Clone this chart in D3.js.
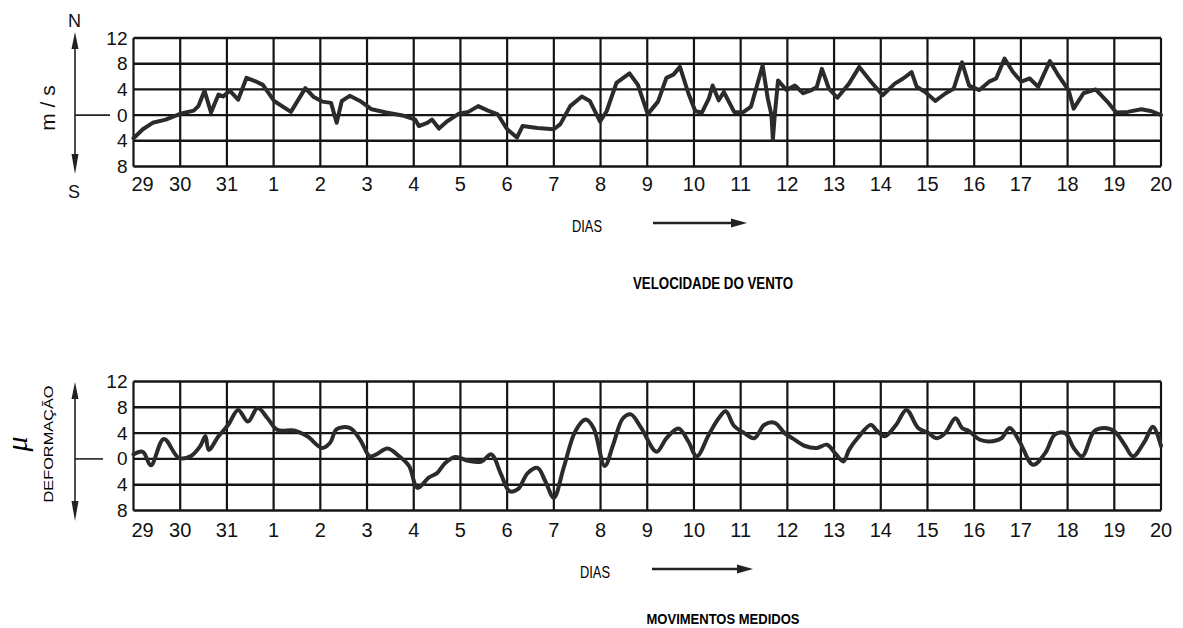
<!DOCTYPE html>
<html>
<head>
<meta charset="utf-8">
<script src="https://cdn.jsdelivr.net/npm/d3@7"></script>
<style>
  body { margin: 0; background: #fff; }
  svg { display: block; }
  .tick-label { font-family: "Liberation Sans", Arial, sans-serif; fill: #111; }
  .title { font-family: "Liberation Sans", Arial, sans-serif; fill: #000; }
</style>
</head>
<body>
<svg id="chart" width="1183" height="628"></svg>
<script>
// Day labels along the x axis (29 Oct .. 20 Nov)
const days = ["29", "30", "31", "1", "2", "3", "4", "5", "6", "7", "8", "9",
  "10", "11", "12", "13", "14", "15", "16", "17", "18", "19", "20"];
const yTicks = [12, 8, 4, 0, -4, -8];

// Wind speed (m/s, north positive) - position in days from the "29" line
const windT = [0, 0.2, 0.41, 0.69, 1.0, 1.29, 1.39, 1.52, 1.66, 1.82, 1.92, 2.06, 2.24, 2.42, 2.6, 2.77,
  3.01, 3.37, 3.68, 3.86, 4.04, 4.23, 4.35, 4.46, 4.63, 4.85, 5.1, 5.41, 5.76, 6.03, 6.11, 6.29,
  6.39, 6.54, 6.71, 6.96, 7.17, 7.38, 7.59, 7.8, 8.0, 8.21, 8.33, 8.65, 9.0, 9.14, 9.35, 9.6,
  9.77, 9.99, 10.13, 10.34, 10.62, 10.8, 11.01, 11.23, 11.41, 11.56, 11.7, 11.88, 12.03, 12.17,
  12.32, 12.4, 12.53, 12.64, 12.86, 13.04, 13.22, 13.33, 13.47, 13.58, 13.66, 13.69, 13.73, 13.8,
  13.98, 14.16, 14.34, 14.52, 14.63, 14.74, 14.89, 15.07, 15.32, 15.54, 15.79, 16.04, 16.3, 16.48,
  16.66, 16.77, 16.95, 17.17, 17.39, 17.56, 17.74, 17.89, 18.11, 18.32, 18.47, 18.65, 18.83, 19.01,
  19.19, 19.37, 19.62, 19.8, 20.02, 20.13, 20.34, 20.6, 20.85, 21.04, 21.29, 21.58, 21.8, 22];
const windV = [-3.6, -2.2, -1.2, -0.7, 0.2, 0.7, 1.4, 3.8, 0.4, 3.2, 2.9, 3.8, 2.4, 5.8, 5.3, 4.7,
  2.2, 0.5, 4.2, 2.8, 2.1, 1.9, -1.2, 2.2, 3.0, 2.2, 0.9, 0.4, -0.05, -0.7, -1.7, -1.2,
  -0.7, -2.1, -1.0, 0.2, 0.5, 1.4, 0.7, 0.1, -2.2, -3.5, -1.7, -2.0, -2.2, -1.4, 1.4, 2.9,
  2.2, -1.0, 0.6, 5.0, 6.5, 4.7, 0.15, 2.1, 5.8, 6.3, 7.5, 3.4, 0.6, 0.4,
  2.6, 4.6, 2.3, 3.6, 0.5, 0.4, 1.3, 4.1, 7.7, 2.6, 0, -3.8, 0, 5.4,
  3.9, 4.6, 3.4, 3.9, 4.4, 7.2, 4.1, 2.7, 4.9, 7.5, 5.2, 3.1, 4.9, 5.7,
  6.7, 4.4, 3.6, 2.2, 3.4, 4.1, 8.2, 4.6, 3.9, 5.2, 5.7, 8.8, 6.7, 5.2,
  5.7, 4.4, 8.4, 6.2, 3.9, 1.0, 3.4, 4.0, 2.1, 0.4, 0.5, 0.9, 0.6, 0];

// Measured deformation (micro-strain)
const moveT = [0, 0.2, 0.37, 0.65, 0.97, 1.22, 1.43, 1.54, 1.61, 1.82, 2.03, 2.24, 2.45, 2.66, 2.87,
  3.08, 3.44, 3.72, 4.04, 4.21, 4.35, 4.63, 4.85, 5.06, 5.2, 5.44, 5.69, 5.9, 6.08, 6.32, 6.5,
  6.68, 6.89, 7.17, 7.45, 7.66, 7.87, 8.05, 8.23, 8.44, 8.65, 8.82, 9.0, 9.21, 9.46, 9.68, 9.85,
  10.09, 10.27, 10.48, 10.65, 10.87, 11.2, 11.41, 11.67, 11.88, 12.06, 12.32, 12.53, 12.68, 12.86,
  13.08, 13.29, 13.51, 13.73, 13.94, 14.13, 14.38, 14.63, 14.85, 15.03, 15.2, 15.32, 15.5, 15.79,
  15.9, 16.08, 16.33, 16.55, 16.8, 17.02, 17.2, 17.38, 17.6, 17.74, 17.89, 18.11, 18.32, 18.58,
  18.76, 18.97, 19.26, 19.52, 19.73, 19.95, 20.13, 20.31, 20.57, 20.79, 21.0, 21.22, 21.4, 21.65,
  21.83, 22];
const moveV = [0.7, 1.1, -1.0, 3.1, 0.15, 0.4, 2.0, 3.5, 1.4, 3.5, 5.3, 7.6, 5.8, 7.9, 6.3,
  4.5, 4.4, 3.5, 1.7, 2.5, 4.6, 4.8, 3.0, 0.4, 0.7, 1.6, 0.4, -1.1, -4.5, -2.9, -2.2,
  -0.6, 0.3, -0.3, -0.4, 0.7, -2.4, -5.0, -4.7, -2.2, -1.4, -3.5, -6.0, -1.4, 4.3, 6.1, 4.8,
  -1.1, 2.2, 6.3, 6.9, 4.8, 1.1, 3.2, 4.7, 2.7, 0.4, 3.8, 6.3, 7.4, 5.1,
  4.0, 3.2, 5.3, 5.6, 4.0, 3.1, 2.0, 1.7, 2.2, 0.8, -0.4, 1.4, 3.2, 5.3,
  4.5, 3.5, 5.3, 7.6, 4.8, 4.0, 3.2, 4.0, 6.3, 4.8, 4.3, 3.0, 2.7, 3.2,
  4.8, 2.7, -0.9, 0.9, 3.8, 4.0, 1.7, 0.4, 4.3, 4.8, 4.3, 2.2, 0.4, 2.7,
  5.0, 2.0];

const svg = d3.select("#chart");

const x = d3.scaleLinear().domain([0, days.length - 1]).range([133.5, 1161]);

function drawPanel(top, bottom, tValues, vValues, curve, labelY) {
  const y = d3.scaleLinear().domain([-8, 12]).range([bottom, top]);
  const g = svg.append("g");

  // horizontal grid
  g.selectAll("line.h")
    .data(yTicks)
    .enter()
    .append("line")
    .attr("x1", x(0)).attr("x2", x(days.length - 1))
    .attr("y1", d => y(d)).attr("y2", d => y(d))
    .attr("stroke", "#151515")
    .attr("stroke-width", 2.4);

  // vertical grid
  g.selectAll("line.v")
    .data(days)
    .enter()
    .append("line")
    .attr("x1", (d, i) => x(i)).attr("x2", (d, i) => x(i))
    .attr("y1", y(12)).attr("y2", y(-8))
    .attr("stroke", "#151515")
    .attr("stroke-width", 2.2);

  // y tick labels (absolute value, south below 0)
  g.selectAll("text.ylab")
    .data(yTicks)
    .enter()
    .append("text")
    .attr("class", "tick-label")
    .attr("x", x(0) - 6)
    .attr("y", d => y(d) + 6.5)
    .attr("text-anchor", "end")
    .style("font-size", "19px")
    .text(d => Math.abs(d));

  // x tick labels
  g.selectAll("text.xlab")
    .data(days)
    .enter()
    .append("text")
    .attr("class", "tick-label")
    .attr("x", (d, i) => x(i) + (i === 0 ? 9 : 0))
    .attr("y", labelY)
    .attr("text-anchor", "middle")
    .style("font-size", "20px")
    .text(d => d);

  // the data line
  const line = d3.line()
    .x((d, i) => x(tValues[i]))
    .y(d => y(d))
    .curve(curve);

  g.append("path")
    .datum(vValues)
    .attr("d", line)
    .attr("fill", "none")
    .attr("stroke", "#2b2b2b")
    .attr("stroke-width", 4)
    .attr("stroke-linejoin", "round")
    .attr("stroke-linecap", "round");

  return y;
}

// vertical double arrow with zero stub on the left of a panel
function sideArrow(y1, y2, yZero, stubEnd) {
  const ax = 75;
  svg.append("line")
    .attr("x1", ax).attr("x2", ax).attr("y1", y1 + 6).attr("y2", y2 - 6)
    .attr("stroke", "#222").attr("stroke-width", 1.6);
  svg.append("path")
    .attr("d", `M${ax},${y1} L${ax - 3.5},${y1 + 17} L${ax + 3.5},${y1 + 17} Z`)
    .attr("fill", "#222");
  svg.append("path")
    .attr("d", `M${ax},${y2} L${ax - 3.5},${y2 - 20} L${ax + 3.5},${y2 - 20} Z`)
    .attr("fill", "#222");
  svg.append("line")
    .attr("x1", ax).attr("x2", stubEnd).attr("y1", yZero).attr("y2", yZero)
    .attr("stroke", "#222").attr("stroke-width", 1.6);
}

// "DIAS --->" label
function daysArrow(tx, ty, x1, x2, ay) {
  svg.append("text")
    .attr("class", "title")
    .attr("x", tx).attr("y", ty)
    .attr("textLength", 30).attr("lengthAdjust", "spacingAndGlyphs")
    .style("font-size", "16px")
    .text("DIAS");
  svg.append("line")
    .attr("x1", x1).attr("x2", x2 - 12).attr("y1", ay).attr("y2", ay)
    .attr("stroke", "#222").attr("stroke-width", 2.6);
  svg.append("path")
    .attr("d", `M${x2},${ay} L${x2 - 16},${ay - 4.5} L${x2 - 16},${ay + 4.5} Z`)
    .attr("fill", "#222");
}

// ---- top panel : wind speed ----
const yTop = drawPanel(38, 166.5, windT, windV, d3.curveLinear, 191);
sideArrow(32, 174, yTop(0), 110);
svg.append("text").attr("class", "tick-label")
  .attr("x", 74.5).attr("y", 27).attr("text-anchor", "middle")
  .style("font-size", "18px").text("N");
svg.append("text").attr("class", "tick-label")
  .attr("x", 74).attr("y", 198).attr("text-anchor", "middle")
  .style("font-size", "18px").text("S");
svg.append("text").attr("class", "tick-label")
  .attr("transform", "translate(55,108) rotate(-90)")
  .attr("text-anchor", "middle")
  .style("font-size", "21px").text("m / s");
daysArrow(572, 232, 653, 747, 223);
svg.append("text").attr("class", "title")
  .attr("x", 713).attr("y", 289).attr("text-anchor", "middle")
  .attr("textLength", 160).attr("lengthAdjust", "spacingAndGlyphs")
  .style("font-size", "16px").style("font-weight", "bold")
  .text("VELOCIDADE DO VENTO");

// ---- bottom panel : measured movements ----
const yBot = drawPanel(381.5, 510.5, moveT, moveV, d3.curveCatmullRom, 537);
sideArrow(382, 521, yBot(0), 103);
svg.append("text").attr("class", "title")
  .attr("transform", "translate(53,444) rotate(-90)")
  .attr("text-anchor", "middle")
  .attr("textLength", 117).attr("lengthAdjust", "spacingAndGlyphs")
  .style("font-size", "13px").text("DEFORMAÇÃO");
svg.append("text")
  .attr("transform", "translate(27,444) rotate(-90)")
  .attr("text-anchor", "middle")
  .style("font-family", "'Liberation Serif', serif")
  .style("font-style", "italic")
  .style("font-size", "30px")
  .text("μ");
daysArrow(580, 578, 652, 753, 569);
svg.append("text").attr("class", "title")
  .attr("x", 723).attr("y", 624).attr("text-anchor", "middle")
  .attr("textLength", 153).attr("lengthAdjust", "spacingAndGlyphs")
  .style("font-size", "15px").style("font-weight", "bold")
  .text("MOVIMENTOS MEDIDOS");
</script>
</body>
</html>
